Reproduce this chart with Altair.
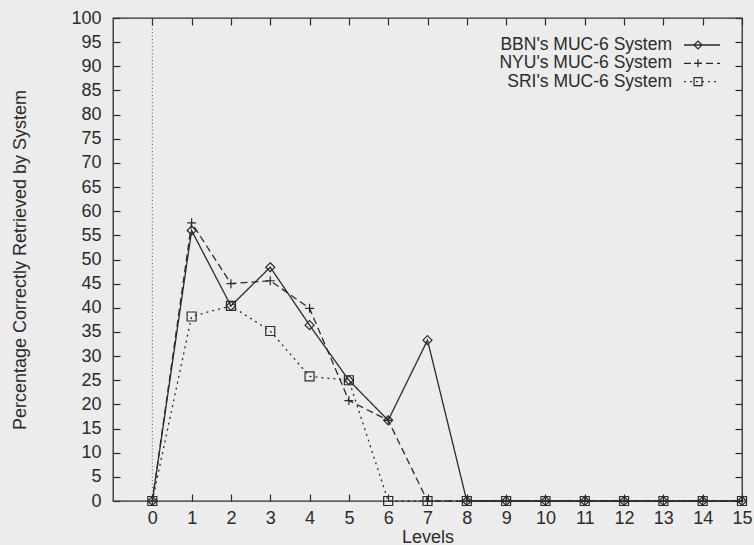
import altair as alt
import pandas as pd

# ---- data ----
levels = list(range(16))
bbn = [0, 56.0, 40.4, 48.4, 36.4, 25.0, 16.7, 33.3, 0, 0, 0, 0, 0, 0, 0, 0]
nyu = [0, 57.6, 45.0, 45.6, 39.9, 20.8, 16.7, 0, 0, 0, 0, 0, 0, 0, 0, 0]
sri = [0, 38.2, 40.4, 35.2, 25.8, 25.0, 0, 0, 0, 0, 0, 0, 0, 0, 0, 0]
series = ["BBN's MUC-6 System", "NYU's MUC-6 System", "SRI's MUC-6 System"]
x_ticks = list(range(16))
y_ticks = list(range(0, 101, 5))

rows = []
for name, vals in zip(series, [bbn, nyu, sri]):
    for lv, v in zip(levels, vals):
        rows.append({"level": lv, "pct": v, "system": name})
df = pd.DataFrame(rows)

# ---- styling ----
INK = "#2b2b2b"
BG = "#ececec"
FONT = "Liberation Sans"
FS = 18
KEY_FS = 17.5
W, H = 629, 483
TICK = 7
dashes = [[1, 0], [7, 4], [2, 4]]
shapes = ["M0,-1L1,0L0,1L-1,0Z", "M-1,0H1M0,-1V1", "M-1,-1H1V1H-1Z"]

xscale = alt.Scale(domain=[-1, 15], nice=False, zero=False)
yscale = alt.Scale(domain=[0, 100], nice=False)

common = dict(domain=False, grid=False, tickColor=INK, tickWidth=1.2,
              tickSize=TICK, offset=-TICK, labelFont=FONT, labelFontSize=FS,
              labelColor=INK, titleFont=FONT, titleFontSize=FS,
              titleColor=INK, titleFontWeight="normal",
              labelFlush=False, labelOverlap=False)

x_bottom = alt.Axis(orient="bottom", values=x_ticks, labelPadding=8,
                    title="Levels", titleX=W / 2, titleY=48,
                    titleBaseline="alphabetic", titleAlign="center", **common)
y_left = alt.Axis(orient="left", values=y_ticks, labelPadding=12,
                  title="Percentage Correctly Retrieved by System",
                  titleX=-95, titleY=H / 2, titleAngle=-90,
                  titleBaseline="alphabetic", titleAlign="center", **common)
x_top = alt.Axis(orient="top", values=x_ticks, labels=False, title=None, **common)
y_right = alt.Axis(orient="right", values=y_ticks, labels=False, title=None, **common)

lines = alt.Chart(df).mark_line(color=INK, strokeWidth=1.3).encode(
    x=alt.X("level:Q", scale=xscale, axis=x_bottom),
    y=alt.Y("pct:Q", scale=yscale, axis=y_left),
    strokeDash=alt.StrokeDash("system:N",
                              scale=alt.Scale(domain=series, range=dashes),
                              legend=None),
)

frame_ticks = alt.Chart(df).mark_point(opacity=0).encode(
    x=alt.X("level:Q", scale=xscale, axis=x_top),
    y=alt.Y("pct:Q", scale=yscale, axis=y_right),
)

points = alt.Chart(df).mark_point(filled=False, color=INK, size=81,
                                  strokeWidth=1.2, opacity=1).encode(
    x=alt.X("level:Q", scale=xscale, axis=None),
    y=alt.Y("pct:Q", scale=yscale, axis=None),
    shape=alt.Shape("system:N", scale=alt.Scale(domain=series, range=shapes),
                    legend=None),
)

zero_line = alt.Chart(pd.DataFrame({"level": [0]})).mark_rule(
    color="#555555", strokeWidth=1, strokeDash=[1, 2.5]).encode(
    x=alt.X("level:Q", scale=xscale, axis=None))

# ---- gnuplot-style key (top right) ----
key_layers = []
row_y = [27, 45.3, 63.6]
for name, dash, shp, yy in zip(series, dashes, shapes, row_y):
    one = pd.DataFrame({"system": [name]})
    key_layers.append(alt.Chart(one).mark_text(
        align="right", baseline="middle", font=FONT, fontSize=KEY_FS, color=INK
    ).encode(text="system:N", x=alt.value(559), y=alt.value(yy)))
    key_layers.append(alt.Chart(one).mark_rule(
        color=INK, strokeWidth=1.3, strokeDash=dash
    ).encode(x=alt.value(571), x2=alt.value(607), y=alt.value(yy)))
    key_layers.append(alt.Chart(one).mark_point(
        shape=shp, size=64, filled=False, color=INK, strokeWidth=1.2, opacity=1
    ).encode(x=alt.value(585), y=alt.value(yy)))

chart = alt.layer(zero_line, lines, frame_ticks, points, *key_layers).resolve_axis(
    x="independent", y="independent"
).properties(
    width=W, height=H,
    padding={"left": 113, "top": 18, "right": 12, "bottom": 44},
    autosize=alt.AutoSizeParams(type="none"),
    background=BG,
).configure_view(stroke=INK, strokeWidth=1.3)

chart.save("out.html", embed_options={"renderer": "svg", "actions": False})
